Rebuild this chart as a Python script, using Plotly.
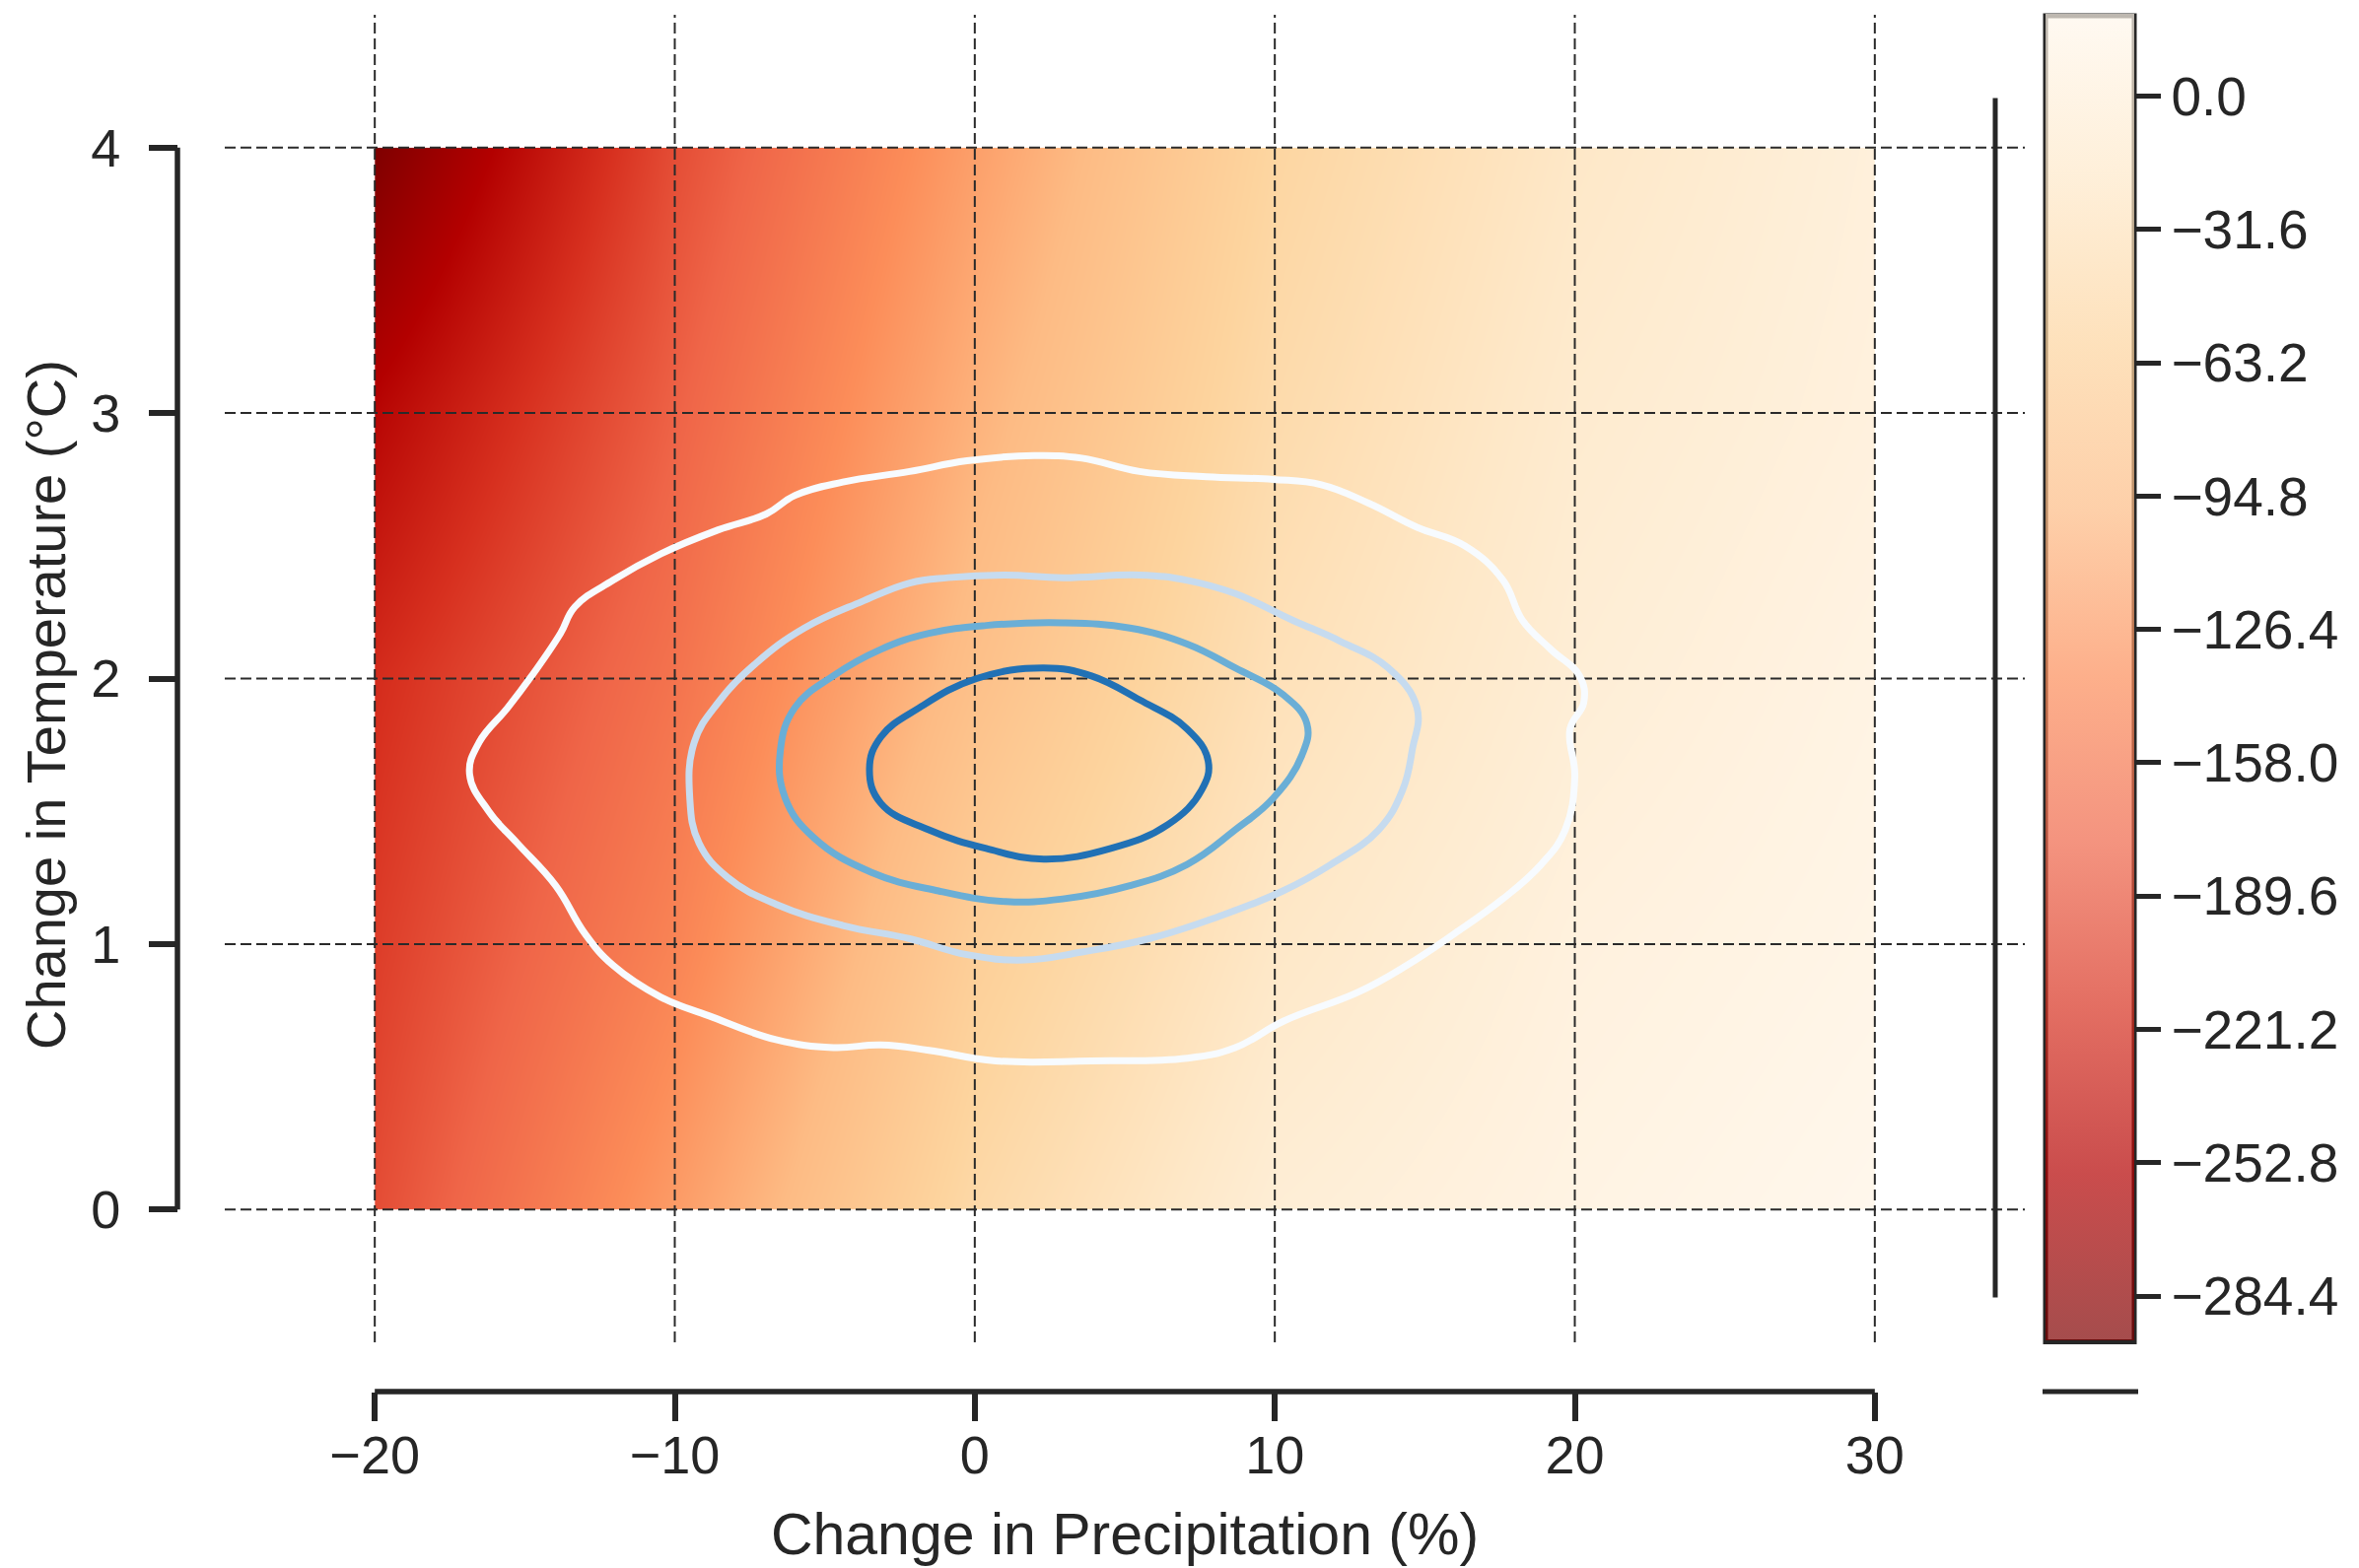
import plotly.graph_objects as go

# ---------------- data ----------------
precip = [-20, -10, 0, 10, 20, 30]          # % change in precipitation (grid nodes)
temp = [0, 1, 2, 3, 4]                       # deg C change (grid nodes)
z_t0 = [-195.0, -125.0, -50.0, -5.0, 10.0, 19.5]
z_t1 = [-207.0, -147.0, -68.0, -20.0, 4.0, 14.0]
z_t2 = [-220.0, -163.0, -90.0, -34.0, -5.0, 10.0]
z_t3 = [-251.0, -179.0, -106.0, -46.0, -12.0, 4.0]
z_t4 = [-294.9, -195.0, -122.0, -56.0, -20.0, 1.0]
z_grid = [z_t0, z_t1, z_t2, z_t3, z_t4]

x_ticks = [-20, -10, 0, 10, 20, 30]
x_ticktext = ["\u221220", "\u221210", "0", "10", "20", "30"]
y_ticks = [0, 1, 2, 3, 4]
cb_ticks = [0.0, -31.6, -63.2, -94.8, -126.4, -158.0, -189.6, -221.2, -252.8, -284.4]
cb_ticktext = ["0.0", "\u221231.6", "\u221263.2", "\u221294.8", "\u2212126.4",
               "\u2212158.0", "\u2212189.6", "\u2212221.2", "\u2212252.8", "\u2212284.4"]
z_min, z_max = -294.9, 19.5

# density contour lines (outer -> inner)
white_x = [1.98, 3.57, 5.49, 7.72, 9.95, 11.55, 13.14, 14.74, 16.33, 17.61, 18.25, 19.2, 20.16, 20.3,
           19.84, 20.0, 19.68, 18.88, 17.6, 16.0, 14.4, 12.8, 10.3, 8.68, 7.08, 3.89, 0.70, -1.53,
           -3.13, -4.72, -6.63, -8.87, -10.46, -12.06, -13.0, -13.97, -15.25, -16.2, -16.84, -16.52,
           -15.57, -14.77, -13.81, -13.33, -12.06, -10.46, -8.55, -6.95, -5.99, -4.40, -2.17, -0.26, 1.98]
white_y = [2.84, 2.83, 2.78, 2.76, 2.75, 2.73, 2.66, 2.57, 2.50, 2.37, 2.22, 2.11, 2.01, 1.91,
           1.81, 1.63, 1.43, 1.30, 1.17, 1.04, 0.92, 0.82, 0.71, 0.61, 0.57, 0.56, 0.56, 0.60,
           0.62, 0.61, 0.64, 0.73, 0.80, 0.92, 1.04, 1.22, 1.38, 1.50, 1.64, 1.76,
           1.89, 2.01, 2.17, 2.27, 2.37, 2.47, 2.56, 2.62, 2.69, 2.74, 2.78, 2.82, 2.84]
light_x = [-0.89, 1.02, 2.93, 5.49, 7.08, 8.68, 10.59, 12.19, 13.78, 14.74, 14.58, 14.26, 13.46,
           11.87, 10.27, 8.04, 5.81, 3.57, 1.66, -0.26, -2.17, -4.40, -6.63, -8.23, -9.19, -9.5,
           -9.35, -8.55, -7.27, -5.68, -3.76, -2.17, -0.89]
light_y = [2.38, 2.39, 2.38, 2.39, 2.37, 2.32, 2.22, 2.14, 2.04, 1.89, 1.73, 1.58, 1.43,
           1.30, 1.20, 1.10, 1.02, 0.97, 0.94, 0.96, 1.02, 1.07, 1.15, 1.25, 1.38, 1.55,
           1.76, 1.91, 2.06, 2.19, 2.29, 2.36, 2.38]
mid_x = [0.38, 2.93, 5.17, 7.08, 8.68, 10.27, 11.07, 10.9, 9.95, 8.68, 7.08, 5.17, 2.93, 1.02,
         -1.21, -3.44, -5.36, -6.32, -6.48, -6.0, -4.72, -3.13, -1.53, 0.38]
mid_y = [2.20, 2.21, 2.19, 2.13, 2.04, 1.94, 1.83, 1.71, 1.55, 1.43, 1.30, 1.22, 1.17, 1.16,
         1.20, 1.27, 1.40, 1.55, 1.73, 1.89, 2.01, 2.11, 2.17, 2.20]
dark_x = [2.30, 3.89, 5.49, 7.08, 7.78, 7.56, 6.44, 4.53, 2.30, 0.38, -1.53, -3.13, -3.51, -3.13,
          -1.85, 0.06, 2.30]
dark_y = [2.04, 2.01, 1.92, 1.81, 1.69, 1.58, 1.45, 1.36, 1.32, 1.36, 1.43, 1.53, 1.66, 1.78,
          1.89, 2.00, 2.04]

# ---------------- styling ----------------
W, H = 2393, 1591
ML, MR, MT, MB = 180, 339, 15, 179
PW, PH = W - ML - MR, H - MT - MB
FONT = "Liberation Sans, Arial, sans-serif"
INK = "#262626"
orrd = ["rgb(255,247,236)", "rgb(254,232,200)", "rgb(253,212,158)", "rgb(253,187,132)",
        "rgb(252,141,89)", "rgb(239,101,72)", "rgb(215,48,31)", "rgb(179,0,0)", "rgb(127,0,0)"]
orrd_r = list(reversed(orrd))
scale_opaque = [[i / 8, c] for i, c in enumerate(orrd_r)]
scale_alpha = [[i / 8, c.replace("rgb", "rgba").replace(")", ",0.7)")] for i, c in enumerate(orrd_r)]

x_range = [-25, 35]
y_range = [-0.5, 4.5]

fig = go.Figure()

# smooth response surface
fig.add_trace(go.Contour(
    x=precip, y=temp, z=z_grid, zmin=z_min, zmax=z_max,
    colorscale=scale_opaque, showscale=False,
    contours=dict(coloring="heatmap", showlines=False),
    line=dict(width=0), hoverinfo="skip"))

# dashed grid drawn above the surface
gx, gy = [], []
for xt in x_ticks:
    gx += [xt, xt, None]
    gy += [y_range[0], y_range[1], None]
hx, hy = [], []
for yt in y_ticks:
    hx += [x_range[0], x_range[1], None]
    hy += [yt, yt, None]
grid_line = dict(color="#2a2a2a", width=2, dash="11px,5px")
fig.add_trace(go.Scatter(x=gx, y=gy, mode="lines", line=grid_line, showlegend=False, hoverinfo="skip"))
fig.add_trace(go.Scatter(x=hx, y=hy, mode="lines", line=grid_line, showlegend=False, hoverinfo="skip"))

# density contours
for cx, cy, col in [(white_x, white_y, "#f7fbff"), (light_x, light_y, "#c6dbef"),
                    (mid_x, mid_y, "#6aaed6"), (dark_x, dark_y, "#2171b5")]:
    fig.add_trace(go.Scatter(x=cx, y=cy, mode="lines",
                             line=dict(color=col, width=7, shape="spline", smoothing=1.2),
                             showlegend=False, hoverinfo="skip"))

# colour bar (semi-transparent, as in the reference)
CB_TOP, CB_LEN = 16, 1345.5
CB_LEFT, CB_THICK = 2075, 90
fig.add_trace(go.Scatter(
    x=[None], y=[None], mode="markers", showlegend=False, hoverinfo="skip",
    marker=dict(color=[z_min], colorscale=scale_alpha, cmin=z_min, cmax=z_max, showscale=True,
                colorbar=dict(
                    xref="container", yref="container", x=CB_LEFT / W, xanchor="left",
                    y=1 - CB_TOP / H, yanchor="top", lenmode="pixels", len=CB_LEN,
                    thicknessmode="pixels", thickness=CB_THICK, xpad=0, ypad=0,
                    outlinewidth=0,
                    tickmode="array", tickvals=cb_ticks, ticktext=cb_ticktext,
                    tickprefix="\u2009",
                    ticks="outside", ticklen=27, tickwidth=5, tickcolor=INK,
                    tickfont=dict(family=FONT, size=55, color=INK)))))

def px_y(py):
    return (H - MB - py) / PH

def px_x(px):
    return (px - ML) / PW

def cb_paper_y(v):
    return px_y(CB_TOP + (z_max - v) / (z_max - z_min) * CB_LEN)

axis_line = dict(color=INK, width=5.5)
shapes = [
    # trimmed, offset spines
    dict(type="line", xref="x", yref="paper", x0=x_ticks[0], x1=x_ticks[-1], y0=0, y1=0, line=axis_line),
    dict(type="line", xref="paper", yref="y", x0=0, x1=0, y0=y_ticks[0], y1=y_ticks[-1], line=axis_line),
    # colour-bar outline
    dict(type="rect", xref="paper", yref="paper", x0=px_x(CB_LEFT), x1=px_x(CB_LEFT + CB_THICK),
         y0=px_y(CB_TOP + CB_LEN), y1=px_y(CB_TOP), line=dict(color=INK, width=5), layer="above"),
    # colour-bar axes spines (offset & trimmed)
    dict(type="line", xref="paper", yref="paper", x0=px_x(2024), x1=px_x(2024),
         y0=cb_paper_y(cb_ticks[0]), y1=cb_paper_y(cb_ticks[-1]), line=dict(color=INK, width=5)),
    dict(type="line", xref="paper", yref="paper", x0=px_x(2072), x1=px_x(2169), y0=0, y1=0,
         line=dict(color=INK, width=5)),
]

x_dom0 = (380 - 152 - ML) / PW
y_dom0 = 50 / PH

fig.update_layout(
    width=W, height=H,
    margin=dict(l=ML, r=MR, t=MT, b=MB, pad=0),
    paper_bgcolor="white", plot_bgcolor="white",
    font=dict(family=FONT, color=INK, size=53),
    showlegend=False,
    shapes=shapes,
    annotations=[dict(text="Change in Temperature (\u00b0C)", xref="paper", yref="paper",
                      x=px_x(46), y=px_y(715), textangle=-90, showarrow=False,
                      xanchor="center", yanchor="middle",
                      font=dict(family=FONT, size=56, color=INK))],
    xaxis=dict(domain=[x_dom0, 1], range=x_range, anchor="free", position=0,
               showgrid=False, zeroline=False, showline=False,
               tickmode="array", tickvals=x_ticks, ticktext=x_ticktext,
               ticks="outside", ticklen=29, tickwidth=5.5, tickcolor=INK,
               ticklabelstandoff=-12,
               tickfont=dict(family=FONT, size=54, color=INK), automargin=False,
               title=dict(text="Change in Precipitation (%)", standoff=30,
                          font=dict(family=FONT, size=59, color=INK))),
    yaxis=dict(domain=[y_dom0, 1], range=y_range, anchor="free", position=0,
               showgrid=False, zeroline=False, showline=False,
               tickmode="array", tickvals=y_ticks,
               ticks="outside", ticklen=29, tickwidth=5.5, tickcolor=INK,
               ticklabelstandoff=18,
               tickfont=dict(family=FONT, size=54, color=INK), automargin=False),
)

fig.write_html("out.html", config={"displayModeBar": False},
               post_script="document.body.style.margin='0';document.body.style.overflow='hidden';")
